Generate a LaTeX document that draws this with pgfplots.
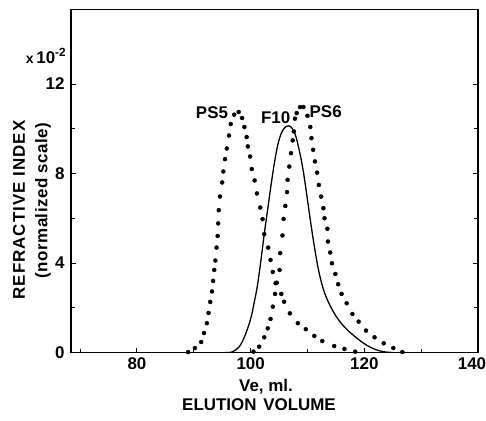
\documentclass[border=0pt]{standalone}
\usepackage{fontspec}
\setmainfont{Liberation Sans}
\usepackage{pgfplots}
\pgfplotsset{compat=1.18}

\newcommand{\lf}{\bfseries\fontsize{17}{17}\selectfont}

\begin{document}
\begin{tikzpicture}[x=1bp,y=1bp]
\begin{axis}[
  at={(0,0)}, anchor=south west,
  scale only axis, width=407bp, height=343bp,
  xmin=68.4, xmax=140, ymin=0, ymax=15.33,
  xtick={80,100,120,140}, minor xtick={70,90,110,130},
  xticklabels={80,100,120,\hspace*{-12bp}140},
  ytick={0,4,8,12}, minor ytick={2,6,10},
  xtick pos=bottom, ytick pos=both,
  tick align=inside,
  major tick length=5bp, minor tick length=4bp,
  axis line style={line width=1.5bp},
  every tick/.style={line width=1bp, black},
  tick label style={font=\lf},
  /pgf/number format/assume math mode=true,
  xticklabel style={yshift=-2bp},
  yticklabel style={xshift=-3bp},
]
% PS5
\addplot[only marks, mark=*, mark size=2bp, black] coordinates {
(89.0,0.02) (90.2,0.2) (91.3,0.47) (91.8,0.87) (92.3,1.31) (92.6,1.77)
(92.9,2.26) (93.2,2.73) (93.4,3.20) (93.6,3.69) (93.8,4.11) (94.0,4.69)
(94.2,5.21) (94.3,5.77) (94.4,6.36) (94.6,6.97) (95.0,7.60) (95.2,8.09)
(95.5,8.64) (95.8,9.12) (96.2,9.70) (96.5,10.21) (97.1,10.63) (97.9,10.75)
(98.5,10.48) (98.9,10.08) (99.3,9.63) (99.5,9.21) (99.9,8.76) (100.2,8.20)
(100.7,7.69) (101.1,7.11) (101.7,6.48) (102.1,5.96) (102.4,5.29) (103.1,4.69)
(103.5,4.14) (103.9,3.60) (104.4,3.10) (105.4,2.62) (105.9,2.27) (106.9,1.75)
(108.3,1.31) (109.7,1.04) (111.2,0.74) (112.6,0.51) (114.7,0.29) (116.5,0.16)
(118.4,0.04)
};
% PS6
\addplot[only marks, mark=*, mark size=2bp, black] coordinates {
(100.5,0.04) (101.5,0.26) (102.4,0.68) (103.0,1.08) (103.5,1.50) (103.9,2.05)
(104.3,2.62) (104.6,3.12) (105.1,3.69) (105.2,4.44) (105.6,5.23) (105.8,5.97)
(106.1,6.55) (106.4,7.17) (106.5,7.72) (106.8,8.31) (107.1,8.91) (107.4,9.48)
(107.6,9.88) (107.8,10.45) (108.1,10.70) (108.7,10.97) (109.3,10.97) (110.0,10.58)
(110.5,10.08) (110.7,9.58) (111.0,9.06) (111.3,8.54) (111.7,8.04) (112.0,7.49)
(112.4,6.97) (112.8,6.45) (113.0,6.00) (113.5,5.53) (113.6,4.96) (114.0,4.47)
(114.3,3.99) (114.9,3.51) (115.4,3.05) (116.0,2.62) (116.9,2.20) (117.9,1.72)
(119.0,1.38) (120.3,0.98) (121.8,0.68) (123.4,0.41) (125.1,0.20) (126.7,0.02)
};
% F10
\addplot[black, line width=1.3bp, smooth, tension=0.6] coordinates {
(95.5,0) (96.8,0.03) (98.0,0.26) (99.0,0.75) (100.0,1.5) (100.6,2.2)
(101.2,3.0) (101.8,4.1) (102.4,5.3) (103.0,6.4) (103.6,7.5) (104.2,8.5)
(104.8,9.3) (105.4,9.8) (106.0,10.05) (106.7,10.13) (107.3,10.02) (107.9,9.7)
(108.5,9.1) (109.2,8.2) (109.9,7.0) (110.6,5.75) (111.3,4.6) (112.1,3.5)
(113.1,2.6) (114.6,1.8) (116.3,1.2) (118.4,0.70) (120.4,0.33) (122.0,0.13)
(123.5,0.03) (125.0,0)
};
\node[font=\lf] at (axis cs:93.2,10.72) {PS5};
\node[font=\lf] at (axis cs:104.4,10.49) {F10};
\node[font=\lf] at (axis cs:113.2,10.76) {PS6};
\end{axis}
% labels, in px offsets from the axis corner
\node[rotate=90, font=\lf\addfontfeature{LetterSpace=6}] at (19-71, 352.5-210) {REFRACTIVE INDEX};
\node[rotate=90, font=\lf\addfontfeature{LetterSpace=3}] at (43-71, 352.5-200.5) {(normalized scale)};
\node[font=\lf] at (46-71, 352.5-56) {{\fontsize{14}{14}\selectfont x}\,10\textsuperscript{-2}};
\node[font=\lf] at (266-71, 352.5-387) {Ve, ml.};
\node[font=\lf] at (259-71, 352.5-405) {ELUTION\hspace{0.4em}VOLUME};
\pgfresetboundingbox
\useasboundingbox (-71,-67.5) rectangle (415,352.5);
\end{tikzpicture}
\end{document}
